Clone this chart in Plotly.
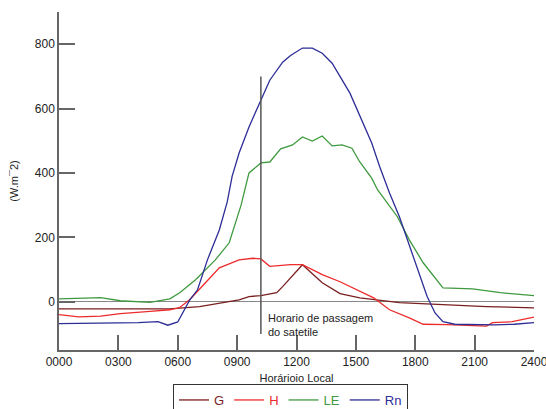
import plotly.graph_objects as go

# ---- data (hours of local time, W/m2) ----
rn_hours = [0, 1, 2, 3, 4, 5, 5.5, 6.0, 6.6, 7.0, 7.5, 8.1, 8.5, 8.75, 9.1, 9.6, 10.2, 10.65,
            11.3, 11.7, 12.3, 12.8, 13.3, 13.8, 14.7, 15.3, 15.8, 16.2, 16.7, 17.2, 17.9,
            18.6, 19.0, 19.4, 20, 21.1, 22, 23, 24]
rn_vals = [-68, -68, -67, -66, -65, -62, -73, -63, 5, 37, 130, 223, 310, 390, 462, 543, 626, 688,
           744, 765, 788, 788, 772, 741, 648, 564, 493, 420, 338, 264, 140,
           16, -35, -62, -70, -71, -72, -70, -65]

le_hours = [0, 1, 2.1, 3.1, 4, 4.6, 5.6, 6.1, 6.9, 7.9, 8.6, 9.2, 9.6, 10.2, 10.65, 11.2, 11.8,
            12.3, 12.8, 13.3, 13.8, 14.3, 14.8, 15.2, 15.8, 16.1, 17.1, 17.7, 18.4, 19.1,
            19.4, 20.9, 22.3, 24]
le_vals = [9, 11, 13, 3, 1, -2, 9, 28, 68, 130, 183, 300, 400, 431, 434, 475, 487,
           512, 499, 515, 484, 487, 477, 434, 384, 347, 264, 192, 121, 68,
           43, 40, 28, 19]

h_hours = [0, 1, 2.1, 3.1, 4.6, 5.6, 6.1, 6.6, 7.4, 8.1, 9.1, 9.8, 10.2, 10.65, 11.7, 12.3,
           13.3, 14.2, 15.9, 16.7, 17.7, 18.4, 19.6, 21.3, 21.6, 21.9, 22.9, 24]
h_vals = [-40, -47, -45, -37, -30, -25, -18, 6, 59, 105, 130, 135, 133, 110, 115, 115,
          84, 62, 12, -25, -50, -70, -71, -74, -76, -65, -62, -48]

g_hours = [0, 2, 4, 5.6, 7.1, 8, 9.1, 9.6, 10.2, 11, 11.3, 12.3, 12.8, 13.3, 14.2, 15.2,
           17.2, 19.2, 21.6, 24]
g_vals = [-22, -22, -22, -22, -15, -5, 6, 16, 19, 28, 47, 115, 88, 59, 25, 12,
          -3, -9, -15, -19]

x_tickvals = [0, 3, 6, 9, 12, 15, 18, 21, 24]
x_ticktext = ["0000", "0300", "0600", "0900", "1200", "1500", "1800", "2100", "2400"]
y_tickvals = [0, 200, 400, 600, 800]

sat_hour = 10.2
sat_range = [-100, 700]

series = [
    ("G", g_hours, g_vals, "#7a1f1f"),
    ("H", h_hours, h_vals, "#ee2b2b"),
    ("LE", le_hours, le_vals, "#3f9a3f"),
    ("Rn", rn_hours, rn_vals, "#2d2d96"),
]

fig = go.Figure()
for name, xs, ys, col in series:
    fig.add_trace(go.Scatter(
        x=xs, y=ys, mode="lines", line=dict(color=col, width=1.3),
        name=f"<span style='color:{col}'>{name}</span>",
    ))

fig.add_shape(type="line", x0=sat_hour, x1=sat_hour, y0=sat_range[0], y1=sat_range[1],
              xref="x", yref="y", line=dict(color="#555555", width=1.5))

fig.add_annotation(x=10.45, y=-25, text="Horario de passagem<br>do satetile", showarrow=False,
                   xanchor="left", yanchor="top", align="left",
                   font=dict(size=11, color="#222"))

axis_common = dict(showline=True, linecolor="#666666", linewidth=1.5, ticks="inside",
                   tickcolor="#666666", tickwidth=1.5, showgrid=False, mirror=False,
                   automargin=False)

fig.update_layout(
    width=546, height=409,
    margin=dict(l=59, r=12, t=12, b=59, autoexpand=False),
    paper_bgcolor="white", plot_bgcolor="white",
    font=dict(family="Liberation Sans, Arial, sans-serif", size=12, color="#222"),
    xaxis=dict(range=[0, 24], tickvals=x_tickvals, ticktext=x_ticktext, ticklen=15,
               ticklabeloverflow="allow",
               title=dict(text="Horárioio Local", font=dict(size=11), standoff=6),
               zeroline=False, **axis_common),
    yaxis=dict(range=[-150, 900], tickvals=y_tickvals, ticklen=16,
               title=dict(text="(W.m¯2)", font=dict(size=11), standoff=14),
               zeroline=True, zerolinecolor="#888888", zerolinewidth=1,
               **axis_common),
    showlegend=True,
    legend=dict(orientation="h", xref="container", yref="container",
                x=173 / 546, y=(409 - 384) / 409, xanchor="left", yanchor="top",
                bordercolor="#333333", borderwidth=1, bgcolor="white",
                font=dict(size=13), tracegroupgap=0, itemwidth=30),
)

fig.write_html("out.html")
